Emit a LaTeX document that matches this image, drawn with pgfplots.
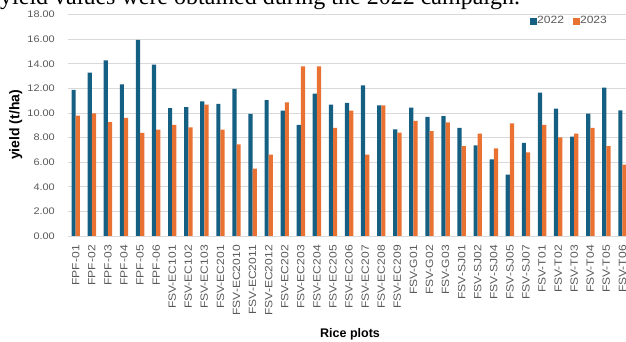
\documentclass[border=0pt]{standalone}
\usepackage{fontspec}
\usepackage{pgfplots}
\usepackage{pgfplotstable}
\pgfplotsset{compat=1.18}
\setmainfont{Liberation Sans}
\newfontfamily\tickfont[FakeStretch=1.15]{Liberation Sans}
\newfontfamily\bodyserif{Liberation Serif}
\definecolor{y22}{HTML}{156082}
\definecolor{y23}{HTML}{E97132}
\definecolor{tickgray}{HTML}{595959}
\definecolor{gridgray}{HTML}{D9D9D9}

% Rice yield per plot (t/ha), two campaigns
\pgfplotstableread{
idx plot        y2022 y2023
0   FPF-01      11.88  9.79
1   FPF-02      13.29  9.98
2   FPF-03      14.29  9.27
3   FPF-04      12.34  9.60
4   FPF-05      15.95  8.38
5   FPF-06      13.94  8.65
6   FSV-EC101   10.41  9.03
7   FSV-EC102   10.49  8.84
8   FSV-EC103   10.96 10.68
9   FSV-EC201   10.74  8.65
10  FSV-EC2010  11.96  7.46
11  FSV-EC2011   9.93  5.48
12  FSV-EC2012  11.06  6.62
13  FSV-EC202   10.20 10.87
14  FSV-EC203    9.03 13.80
15  FSV-EC204   11.58 13.80
16  FSV-EC205   10.68  8.79
17  FSV-EC206   10.82 10.20
18  FSV-EC207   12.26  6.62
19  FSV-EC208   10.63 10.63
20  FSV-EC209    8.68  8.41
21  FSV-G01     10.44  9.36
22  FSV-G02      9.68  8.54
23  FSV-G03      9.74  9.25
24  FSV-SJ01     8.79  7.32
25  FSV-SJ02     7.38  8.33
26  FSV-SJ04     6.24  7.13
27  FSV-SJ05     4.99  9.17
28  FSV-SJ07     7.57  6.81
29  FSV-T01     11.66  9.03
30  FSV-T02     10.36  8.03
31  FSV-T03      8.08  8.33
32  FSV-T04      9.95  8.79
33  FSV-T05     12.07  7.32
34  FSV-T06     10.22  5.80
}\yields

\begin{document}
\begin{tikzpicture}
% running text line above the figure
\node[anchor=base west, inner sep=0pt, font=\bodyserif\fontsize{24}{28}\selectfont]
  at (0pt,337pt) {yield values were obtained during the 2022 campaign.};
\begin{axis}[
  at={(67.7pt,106pt)}, anchor=south west,
  scale only axis, width=562.8pt, height=221.3pt,
  ybar=0pt, bar width=4.2pt,
  xmin=-0.5, xmax=34.5, ymin=0, ymax=18,
  xtick=data, xticklabels from table={\yields}{plot},
  ytick={0,2,...,18},
  ymajorgrids, grid style={draw=gridgray, line width=0.9pt},
  axis line style={draw=none},
  major tick length=0pt,
  /pgf/number format/assume math mode=true,
  tick label style={text=tickgray},
  yticklabel style={font=\tickfont\fontsize{9.5}{11}\selectfont,
    /pgf/number format/fixed, /pgf/number format/fixed zerofill,
    /pgf/number format/precision=2, anchor=east, inner sep=0pt},
  xticklabel style={font=\tickfont\fontsize{10.5}{12}\selectfont,
    rotate=90, anchor=east, inner sep=0pt},
  xticklabel shift=9pt, yticklabel shift=12.7pt,
  legend style={draw=none, fill=none, at={(rel axis cs:0.8214,0.9715)},
    anchor=west, legend columns=2, inner sep=0pt,
    font=\tickfont\fontsize{10.5}{12}\selectfont, text=tickgray,
    /tikz/every even column/.append style={column sep=9pt},
    nodes={inner sep=0pt}},
]
\addplot[draw=none, fill=y22,
  legend image code/.code={\fill[y22] (0pt,-3.5pt) rectangle (7pt,3.5pt);}]
  table[x=idx, y=y2022]{\yields};
\addplot[draw=none, fill=y23,
  legend image code/.code={\fill[y23] (0pt,-3.5pt) rectangle (7pt,3.5pt);}]
  table[x=idx, y=y2023]{\yields};
\legend{2022,2023}
\end{axis}
\node[rotate=90, anchor=base, font=\bfseries\fontsize{14}{16}\selectfont]
  at (19.5pt,217pt) {yield (t/ha)};
\node[anchor=base, font=\bfseries\fontsize{12.5}{14}\selectfont]
  at (350pt,4.5pt) {Rice plots};
\pgfresetboundingbox
\useasboundingbox (0pt,0pt) rectangle (626pt,342pt);
\end{tikzpicture}
\end{document}
